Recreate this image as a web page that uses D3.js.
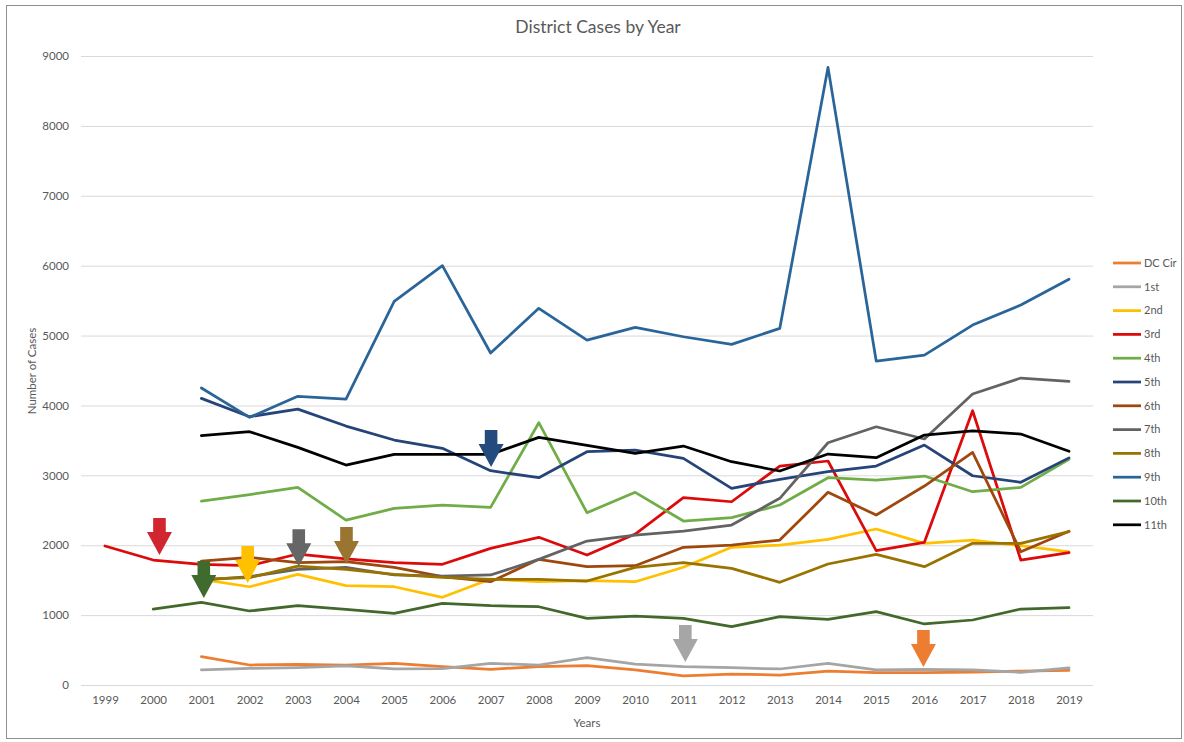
<!DOCTYPE html>
<html lang="en">
<head>
    <meta charset="UTF-8">
    <title>District Cases by Year</title>
    <script src="https://cdn.jsdelivr.net/npm/d3@7"></script>
    <style>
        body { margin: 0; background: #fff; }
        text { font-family: Lato, "Open Sans", sans-serif; fill: #595959; }
    </style>
</head>
<body>
<div id="myDiv"><svg width="1184" height="742"></svg></div>

<script>

    // years on the x axis
    const years = d3.range(1999, 2020);
    const yTicks = [0, 1000, 2000, 3000, 4000, 5000, 6000, 7000, 8000, 9000];

    // series values, first year given, then one value a year up to 2019
    const dcCir = [405, 286, 296, 286, 310, 262, 225, 262, 276, 215, 129, 157, 143, 200, 176, 176, 185, 200, 210];
    const first = [215, 238, 248, 272, 229, 233, 310, 286, 391, 300, 262, 248, 229, 310, 215, 225, 215, 182, 245];
    const second = [1510, 1406, 1583, 1421, 1406, 1255, 1516, 1478, 1492, 1478, 1684, 1970, 2003, 2084, 2232, 2027, 2074, 1993, 1905];
    const third = [1989, 1788, 1727, 1707, 1874, 1803, 1750, 1727, 1955, 2113, 1860, 2160, 2680, 2622, 3133, 3205, 1922, 2042, 3924, 1788, 1895];
    const fourth = [2632, 2725, 2828, 2360, 2527, 2575, 2542, 3753, 2465, 2757, 2346, 2394, 2575, 2966, 2933, 2990, 2766, 2828, 3230];
    const fifth = [4101, 3839, 3948, 3705, 3505, 3386, 3066, 2966, 3338, 3362, 3243, 2814, 2943, 3052, 3133, 3433, 2994, 2900, 3250];
    const sixth = [1774, 1827, 1750, 1764, 1684, 1550, 1478, 1798, 1693, 1707, 1970, 2003, 2074, 2757, 2432, 2847, 3329, 1907, 2200];
    const seventh = [1502, 1550, 1655, 1684, 1574, 1559, 1574, 1798, 2060, 2146, 2203, 2289, 2671, 3466, 3695, 3520, 4163, 4392, 4345];
    const eighth = [1516, 1535, 1702, 1655, 1583, 1541, 1512, 1512, 1488, 1684, 1750, 1669, 1469, 1731, 1870, 1693, 2027, 2027, 2195];
    const ninth = [4250, 3830, 4130, 4090, 5490, 6000, 4750, 5390, 4935, 5117, 4983, 4874, 5103, 8837, 4635, 4721, 5150, 5436, 5805];
    const tenth = [1087, 1183, 1059, 1135, 1083, 1026, 1169, 1135, 1120, 954, 987, 954, 834, 977, 940, 1049, 873, 930, 1087, 1106];
    const eleventh = [3567, 3624, 3400, 3147, 3300, 3300, 3300, 3543, 3430, 3314, 3419, 3195, 3062, 3305, 3252, 3577, 3636, 3591, 3345];

    const seriesNames = ["DC Cir", "1st", "2nd", "3rd", "4th", "5th", "6th", "7th", "8th", "9th", "10th", "11th"];
    const seriesStart = [2001, 2001, 2001, 1999, 2001, 2001, 2001, 2001, 2001, 2001, 2000, 2001];
    const seriesValues = [dcCir, first, second, third, fourth, fifth, sixth, seventh, eighth, ninth, tenth, eleventh];
    const seriesColors = ["#ED7D31", "#A5A5A5", "#FFC000", "#DC0A0A", "#70AD47", "#264478",
        "#9E480E", "#636363", "#997300", "#2A6599", "#43682B", "#000000"];

    // the block arrows drawn on the chart
    const arrowYears = [2000.13, 2001.05, 2001.96, 2003.02, 2004.01, 2007.01, 2011.04, 2015.98];
    const arrowTips = [1860, 1245, 1460, 1700, 1730, 3120, 330, 258];
    const arrowColors = ["#D12530", "#3F6B2E", "#FFC000", "#666666", "#9A7431", "#234B7E", "#A6A6A6", "#ED7D31"];

    const svg = d3.select("#myDiv").select("svg");

    // chart border
    svg.append("rect")
        .attr("x", 6.5).attr("y", 5.5)
        .attr("width", 1175).attr("height", 733)
        .attr("fill", "#fff")
        .attr("stroke", "#8f8f8f")
        .attr("stroke-width", 1);

    const plotLeft = 81, plotRight = 1093, plotTop = 56, plotBottom = 685;

    const x = d3.scaleLinear().domain([1999, 2019]).range([105, 1069]);
    const y = d3.scaleLinear().domain([0, 9000]).range([plotBottom, plotTop]);

    // y axis with gridlines
    const yAxis = svg.append("g")
        .attr("transform", "translate(" + plotLeft + ",0)")
        .call(d3.axisLeft(y).tickValues(yTicks).tickSize(-(plotRight - plotLeft)).tickPadding(12).tickFormat(d3.format("d")));
    yAxis.select(".domain").remove();
    yAxis.selectAll("line").attr("stroke", "#D9D9D9").attr("stroke-width", 1);
    yAxis.selectAll("text").style("font-size", "11.5px").attr("fill", "#595959");

    // x axis labels
    const xAxis = svg.append("g")
        .attr("transform", "translate(0," + plotBottom + ")")
        .call(d3.axisBottom(x).tickValues(years).tickSize(0).tickPadding(11).tickFormat(d3.format("d")));
    xAxis.select(".domain").remove();
    xAxis.selectAll("text").style("font-size", "11.5px").attr("fill", "#595959");

    // titles
    svg.append("text")
        .attr("x", 598).attr("y", 33)
        .attr("text-anchor", "middle")
        .style("font-size", "17.5px")
        .text("District Cases by Year");

    svg.append("text")
        .attr("transform", "translate(36,371) rotate(-90)")
        .attr("text-anchor", "middle")
        .style("font-size", "11.5px")
        .text("Number of Cases");

    svg.append("text")
        .attr("x", 587).attr("y", 727)
        .attr("text-anchor", "middle")
        .style("font-size", "11.5px")
        .text("Years");

    // lines
    const line = d3.line()
        .x(function(d) { return x(d[0]); })
        .y(function(d) { return y(d[1]); });

    seriesValues.forEach(function(vals, i) {
        let pts = vals.map(function(v, j) { return [seriesStart[i] + j, v]; });
        svg.append("path")
            .datum(pts)
            .attr("d", line)
            .attr("fill", "none")
            .attr("stroke", seriesColors[i])
            .attr("stroke-width", 2.75)
            .attr("stroke-linejoin", "round")
            .attr("stroke-linecap", "round");
    });

    // arrows
    svg.selectAll(".arrow")
        .data(arrowYears)
        .enter()
        .append("path")
        .attr("class", "arrow")
        .attr("fill", function(d, i) { return arrowColors[i]; })
        .attr("d", function(d, i) {
            let cx = x(d), ty = y(arrowTips[i]);
            return "M" + (cx - 6.3) + "," + (ty - 37) +
                "L" + (cx + 6.3) + "," + (ty - 37) +
                "L" + (cx + 6.3) + "," + (ty - 23) +
                "L" + (cx + 12.5) + "," + (ty - 23) +
                "L" + cx + "," + ty +
                "L" + (cx - 12.5) + "," + (ty - 23) +
                "L" + (cx - 6.3) + "," + (ty - 23) + "Z";
        });

    // legend
    const legend = svg.append("g");
    seriesNames.forEach(function(name, i) {
        let ly = 263 + i * 23.8;
        legend.append("line")
            .attr("x1", 1113).attr("x2", 1141)
            .attr("y1", ly).attr("y2", ly)
            .attr("stroke", seriesColors[i])
            .attr("stroke-width", 2.75);
        legend.append("text")
            .attr("x", 1144).attr("y", ly)
            .attr("dy", "0.35em")
            .style("font-size", "11px")
            .text(name);
    });
</script>

</body>
</html>
